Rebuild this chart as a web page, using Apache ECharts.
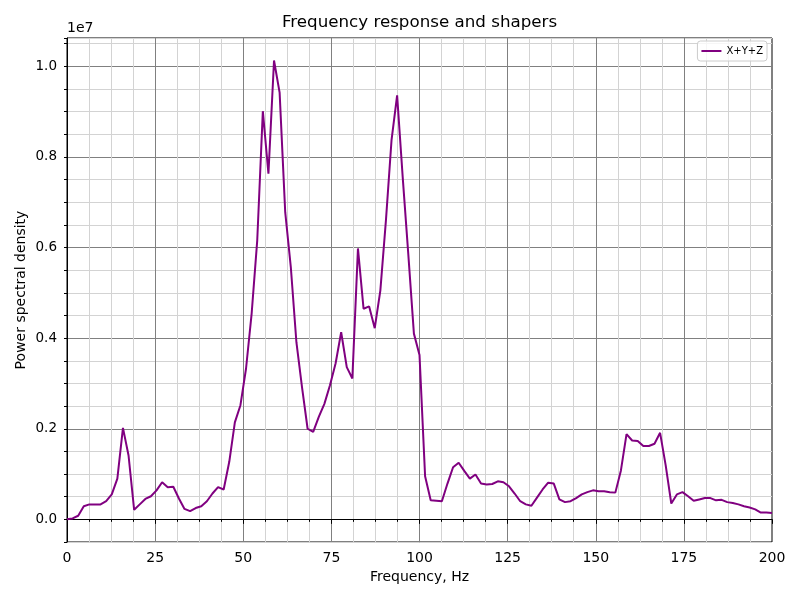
<!DOCTYPE html>
<html>
<head>
<meta charset="utf-8">
<title>Frequency response and shapers</title>
<script src="https://cdn.jsdelivr.net/npm/echarts@6/dist/echarts.min.js"></script>
<style>
    html, body { margin: 0; padding: 0; background: #fff; }
    #chart { width: 800px; height: 600px; }
</style>
</head>
<body>
<div id="chart"></div>
<script>
// 频率轴：0..200 Hz，共127个点
const freqStepHz = 200 / 126;
// PSD 数值（单位 1e6）
const psdMillions = [
    0.00, 0.02, 0.08, 0.29, 0.33, 0.33, 0.33, 0.40, 0.55, 0.90,
    2.02, 1.41, 0.21, 0.33, 0.45, 0.51, 0.64, 0.82, 0.71, 0.72,
    0.46, 0.23, 0.18, 0.25, 0.29, 0.40, 0.57, 0.71, 0.66, 1.27,
    2.14, 2.52, 3.33, 4.54, 6.16, 9.01, 7.63, 10.13, 9.42, 6.78,
    5.57, 3.91, 2.92, 2.00, 1.93, 2.26, 2.55, 2.96, 3.44, 4.13,
    3.36, 3.11, 5.98, 4.65, 4.70, 4.22, 5.05, 6.60, 8.37, 9.36,
    7.55, 5.85, 4.10, 3.63, 0.95, 0.42, 0.41, 0.40, 0.79, 1.15,
    1.25, 1.07, 0.90, 0.99, 0.79, 0.77, 0.78, 0.84, 0.82, 0.73,
    0.57, 0.40, 0.33, 0.30, 0.48, 0.66, 0.81, 0.79, 0.44, 0.38,
    0.40, 0.47, 0.55, 0.60, 0.64, 0.62, 0.62, 0.60, 0.59, 1.08,
    1.88, 1.74, 1.73, 1.62, 1.62, 1.67, 1.91, 1.19, 0.35, 0.55,
    0.60, 0.51, 0.41, 0.44, 0.47, 0.47, 0.42, 0.43, 0.38, 0.36,
    0.33, 0.29, 0.26, 0.22, 0.15, 0.15, 0.14
];
const seriesName = 'X+Y+Z';
const xTicks = [0, 25, 50, 75, 100, 125, 150, 175, 200];
const yTickLabels = ['0.0', '0.2', '0.4', '0.6', '0.8', '1.0'];

const FONT = 'DejaVu Sans';
const MAJOR_GRID = '#808080';
const MINOR_GRID = '#d3d3d3';
const LINE_COLOR = '#800080';

const points = psdMillions.map((v, i) => [i * freqStepHz, v * 1e6]);

const chart = echarts.init(document.getElementById('chart'), null, { renderer: 'canvas' });

const option = {
    animation: false,
    backgroundColor: '#fff',
    textStyle: { fontFamily: FONT, color: '#000' },
    grid: {
        left: 67, top: 38, right: 28, bottom: 58,
        show: true, borderColor: '#000', borderWidth: 1, backgroundColor: 'transparent'
    },
    graphic: [
        { type: 'text', x: 419.5, y: 23, z: 10,
          style: { text: 'Frequency response and shapers', font: '16.7px "DejaVu Sans"', fill: '#000',
                   align: 'center', verticalAlign: 'middle' } },
        { type: 'text', x: 67, y: 28, z: 10,
          style: { text: '1e7', font: '14px "DejaVu Sans"', fill: '#000',
                   align: 'left', verticalAlign: 'middle' } },
        // y轴标题（竖排）
        { type: 'text', x: 21, y: 290, rotation: Math.PI / 2, z: 10,
          style: { text: 'Power spectral density', font: '14px "DejaVu Sans"', fill: '#000',
                   align: 'center', verticalAlign: 'middle' } }
    ],
    legend: {
        right: 33, top: 41,
        data: [{ name: seriesName, icon: 'rect' }],
        itemWidth: 20, itemHeight: 2, itemGap: 6,
        padding: [5, 4, 5, 4],
        backgroundColor: 'rgba(255,255,255,0.8)',
        borderColor: '#cccccc', borderWidth: 1, borderRadius: 3,
        textStyle: { fontFamily: FONT, fontSize: 10, color: '#000' }
    },
    xAxis: {
        type: 'value', min: 0, max: 200, interval: 25,
        name: 'Frequency, Hz', nameLocation: 'middle', nameGap: 28,
        nameTextStyle: { fontFamily: FONT, fontSize: 14, color: '#000' },
        axisLine: { show: true, lineStyle: { color: '#000', width: 1 } },
        axisTick: { show: true, length: 4.5, lineStyle: { color: '#000' } },
        minorTick: { show: true, splitNumber: 4, length: 2.5, lineStyle: { color: '#000' } },
        axisLabel: {
            margin: 9, fontFamily: FONT, fontSize: 14, color: '#000',
            formatter: v => xTicks.includes(Math.round(v)) ? String(Math.round(v)) : ''
        },
        splitLine: { show: true, lineStyle: { color: MAJOR_GRID, width: 1 } },
        minorSplitLine: { show: true, lineStyle: { color: MINOR_GRID, width: 1 } }
    },
    yAxis: {
        type: 'value', min: -0.05e7, max: 1.0626e7, interval: 0.05e7,
        axisLine: { show: true, lineStyle: { color: '#000', width: 1 } },
        axisTick: { show: true, length: 3, lineStyle: { color: '#000' } },
        axisLabel: {
            margin: 10, fontFamily: FONT, fontSize: 13.5, color: '#000',
            formatter: v => {
                const k = v / 0.2e7;
                const idx = Math.round(k);
                if (Math.abs(k - idx) > 1e-6 || idx < 0 || idx >= yTickLabels.length) return '';
                return yTickLabels[idx];
            }
        },
        splitLine: {
            show: true,
            lineStyle: { color: [MINOR_GRID, MAJOR_GRID, MINOR_GRID, MINOR_GRID], width: 1 }
        }
    },
    series: [
        {
            name: seriesName,
            type: 'line',
            data: points,
            symbol: 'none',
            clip: true,
            lineStyle: { color: LINE_COLOR, width: 2 },
            itemStyle: { color: LINE_COLOR },
            z: 5
        }
    ]
};

chart.setOption(option);
</script>
</body>
</html>
